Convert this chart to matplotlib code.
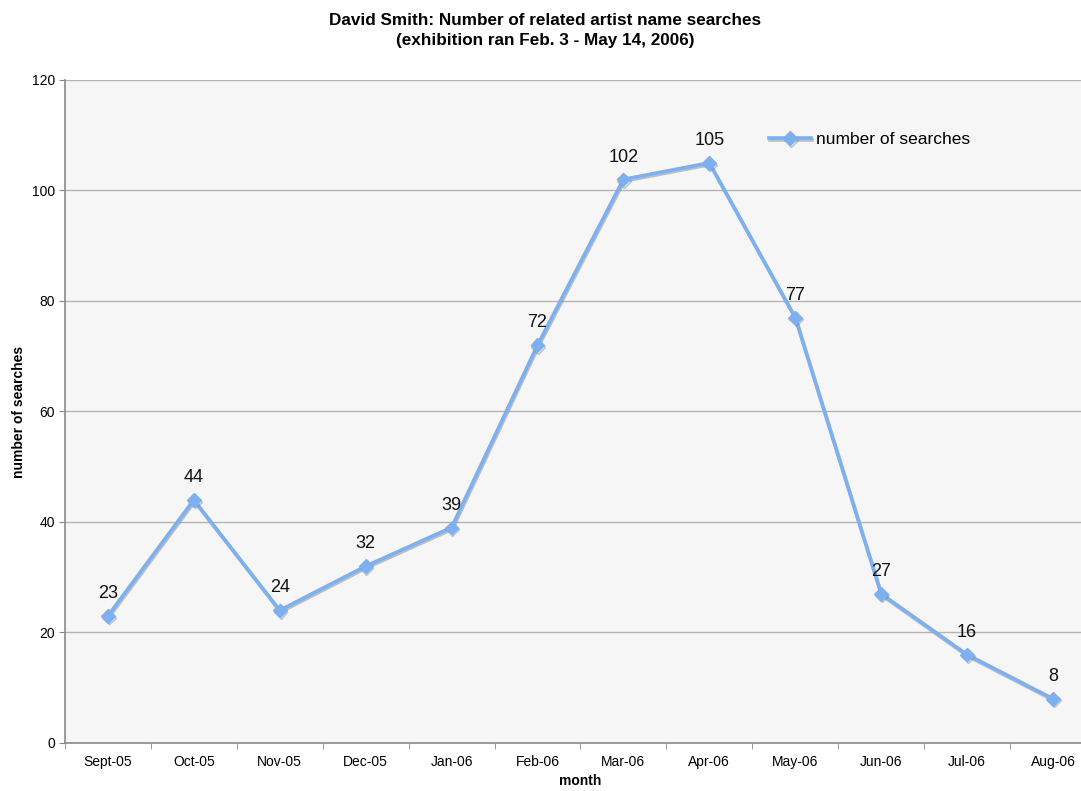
import matplotlib
matplotlib.use("Agg")
import matplotlib.pyplot as plt
import matplotlib.patheffects as pe
import numpy as np

months = ["Sept-05", "Oct-05", "Nov-05", "Dec-05", "Jan-06", "Feb-06",
          "Mar-06", "Apr-06", "May-06", "Jun-06", "Jul-06", "Aug-06"]
searches = [23, 44, 24, 32, 39, 72, 102, 105, 77, 27, 16, 8]
y_ticks = [0, 20, 40, 60, 80, 100, 120]

plt.rcParams["font.family"] = ["Liberation Sans", "DejaVu Sans"]

fig = plt.figure(figsize=(10.81, 7.91), dpi=100)
ax = fig.add_axes([0.0601, 0.0607, 0.9537, 0.8382])
ax.set_facecolor("#f6f6f6")

x = np.arange(len(months))
line_color = "#7db0f0"

# Line with a faint drop shadow underneath
ax.plot(x, searches, color=line_color, lw=2.6, marker="D", ms=7,
        mec=line_color, mfc=line_color, zorder=3, label="number of searches",
        path_effects=[pe.SimpleLineShadow(offset=(0.6, -1.2), shadow_color="#888888", alpha=0.5),
                      pe.Normal()])

for xi, v in zip(x, searches):
    ax.annotate(str(v), (xi, v), xytext=(0, 10), textcoords="offset points",
                ha="center", va="bottom", fontsize=13, color="#111111")

ax.set_xlim(-0.5, len(months) - 0.5)
ax.set_ylim(0, 120)
ax.set_yticks(y_ticks)
ax.yaxis.grid(True, color="#b4b4b4", lw=1)
ax.set_axisbelow(True)

ax.set_xticks(x)
ax.set_xticklabels(months, fontsize=10)
ax.set_xticks(np.arange(len(months) + 1) - 0.5, minor=True)
ax.tick_params(axis="x", which="major", length=0, pad=9)
ax.tick_params(axis="x", which="minor", length=4, color="#888888")
ax.tick_params(axis="y", length=4, color="#888888", labelsize=10, pad=3)

for side in ["top", "right"]:
    ax.spines[side].set_visible(False)
for side in ["left", "bottom"]:
    ax.spines[side].set_color("#8a8a8a")
    ax.spines[side].set_linewidth(1.2)

ax.set_xlabel("month", fontsize=10, fontweight="bold", labelpad=3)
ax.set_ylabel("number of searches", fontsize=10, fontweight="bold", labelpad=4)

fig.suptitle("David Smith: Number of related artist name searches\n(exhibition ran Feb. 3 - May 14, 2006)",
             x=0.504, y=0.984, fontsize=12.3, fontweight="bold", linespacing=1.45)

ax.legend(loc="upper left", bbox_to_anchor=(0.668, 0.945), frameon=False,
          fontsize=12.5, handlelength=2.4, handletextpad=0.3)

fig.savefig("out.png", dpi=100, facecolor="white")
